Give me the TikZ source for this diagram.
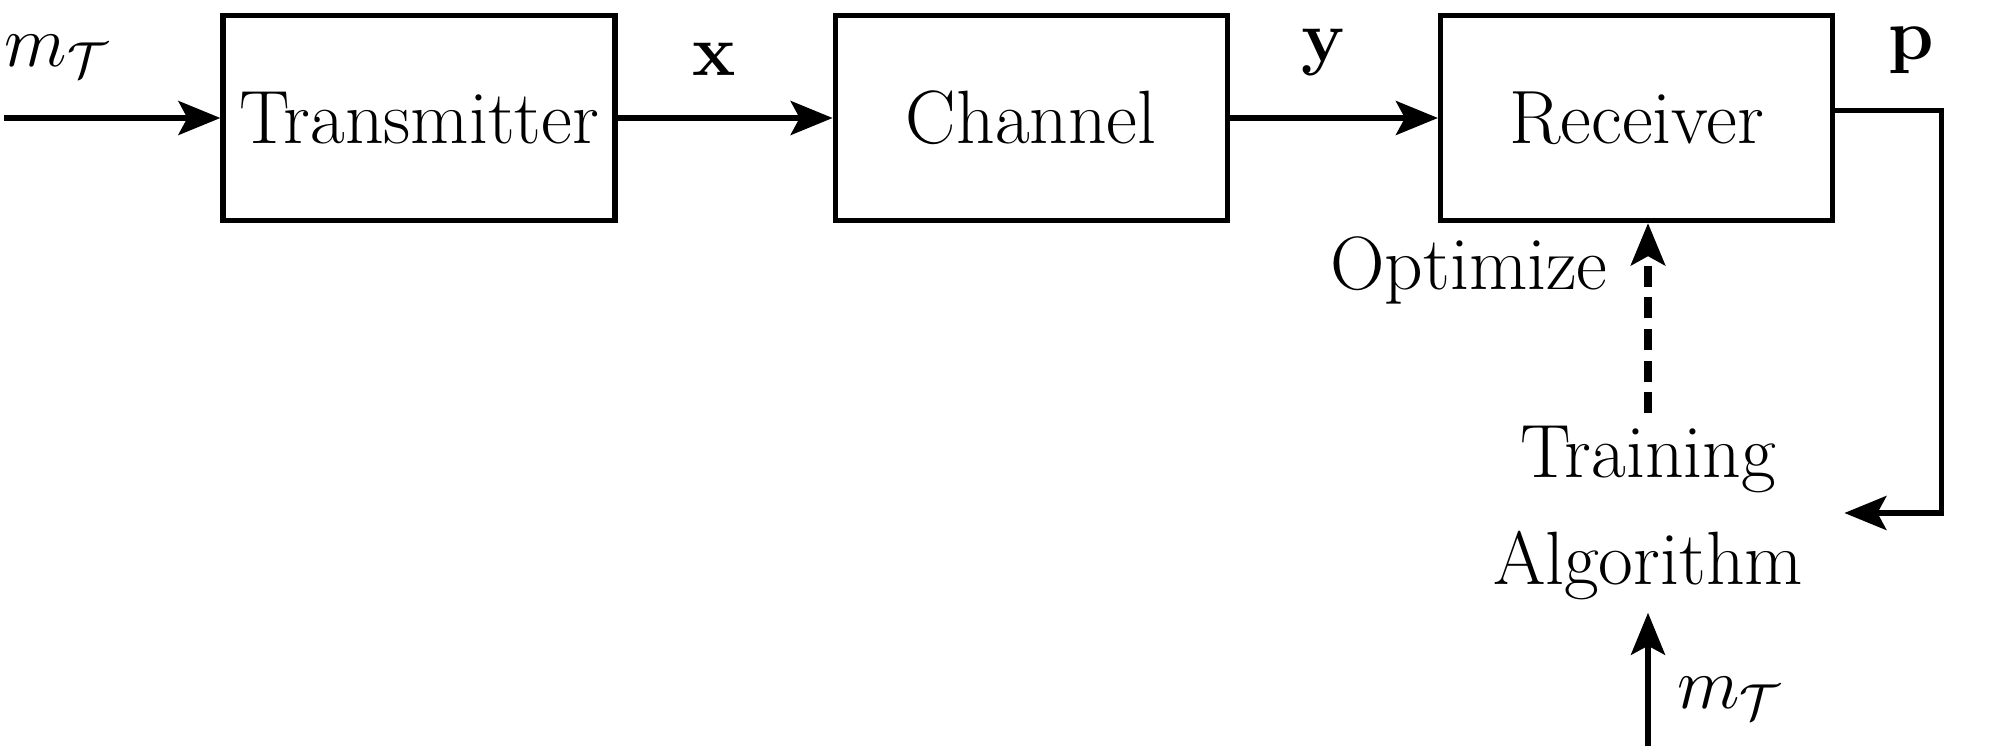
\documentclass[tikz,border=0pt]{standalone}
\usepackage{tikz}
\usetikzlibrary{arrows.meta, positioning, calc}

\begin{document}
\begin{tikzpicture}[
        block/.style={
            rectangle,
            draw=black,
            line width=1.5pt,
            minimum width=3.92cm,
            minimum height=2.05cm,
            font=\fontsize{21.5}{26}\selectfont
        },
        arr/.style={-{Stealth[length=4.2mm, width=3.4mm, inset=0.9mm]}, line width=1.5pt},
        lbl/.style={font=\fontsize{21.5}{26}\selectfont}
    ]
        \useasboundingbox (0,0) rectangle (19.89,7.5);

        \node[block] (tx) at (4.19,6.32) {Transmitter};
        \node[block, right=2.15cm of tx] (ch) {Channel};
        \node[block, right=2.08cm of ch] (rx) {Receiver};

        \node[
            align=center,
            font=\fontsize{21.5}{30.7}\selectfont
        ] (alg) at (16.48,2.37) {Training\\Algorithm};

        \coordinate (in) at (0.04,6.32);
        \coordinate (mt) at (16.48,0.04);

        \node[lbl] (minlbl) at (0.57,6.94) {$m_\mathcal{T}$};
        \node[lbl, anchor=east] (opt) at (16.2,4.80) {Optimize};

        \draw[arr] (in) -- (tx);
        \draw[arr] (tx) -- node[lbl, above=2.8mm, pos=0.45] (xlbl) {$\mathbf{x}$} (ch);
        \draw[arr] (ch) -- node[lbl, above=2.8mm, pos=0.45] (ylbl) {$\mathbf{y}$} (rx);
        \draw[arr, shorten >=2.9mm] ([yshift=0.75mm]rx.east) -- node[lbl, above=2.2mm, pos=0.72] (plbl) {$\mathbf{p}$} ++(1.06,0) |- (alg.east);
        \draw[arr, line width=2.2pt, dash pattern=on 6pt off 3pt] (alg.north) -- (alg.north |- rx.south);
        \draw[arr] (mt) -- node[lbl, right=1.5mm, pos=0.36] (mtlbl) {$m_\mathcal{T}$} (alg.south);
    \end{tikzpicture}
\end{document}
